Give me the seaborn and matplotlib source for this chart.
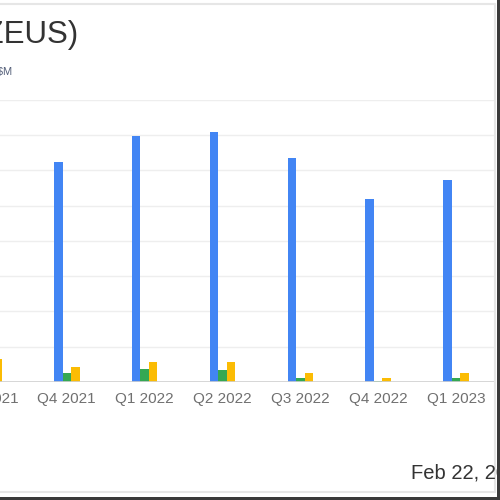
import matplotlib
matplotlib.use("Agg")
import matplotlib.pyplot as plt
from matplotlib.patches import Rectangle
from matplotlib.lines import Line2D
import seaborn as sns
import pandas as pd

# quarterly figures in $M
quarters = ["Q3 2021", "Q4 2021", "Q1 2022", "Q2 2022", "Q3 2022", "Q4 2022", "Q1 2023"]
revenue = [630, 623, 697, 708, 635, 518, 572]
net_income = [45, 25, 37, 34, 11, 3, 10]
ebitda = [65, 42, 57, 57, 25, 11, 25]

series_names = ["Revenue", "Net Income", "EBITDA"]
colors = ["#4285F4", "#34A853", "#FBBC04"]

df = pd.DataFrame({
    "Quarter": quarters * 3,
    "Value": revenue + net_income + ebitda,
    "Series": [series_names[0]] * len(quarters) + [series_names[1]] * len(quarters) + [series_names[2]] * len(quarters),
})

sns.set_theme(style="whitegrid")
plt.rcParams["font.family"] = ["Liberation Sans", "DejaVu Sans"]

fig = plt.figure(figsize=(5, 5), dpi=100)
fig.patch.set_facecolor("white")
# axes pushed off the left edge, like the cropped original
ax = fig.add_axes([-0.1, 0.236, 1.09, 0.5648])

sns.barplot(data=df, x="Quarter", y="Value", hue="Series", palette=colors,
            width=0.33, dodge=True, saturation=1, legend=False, ax=ax, linewidth=0)

ax.set_ylim(0, 800)
ax.set_yticks(range(0, 801, 100))
ax.set_yticklabels([])
ax.set_xlim(-0.5, len(quarters) - 0.5)
ax.grid(axis="y", color="#eeeeee", linewidth=1)
ax.grid(axis="x", visible=False)
ax.axhline(0, color="#d0d0d0", linewidth=1.2, zorder=3)
for s in ax.spines.values():
    s.set_visible(False)
ax.set_xlabel("")
ax.set_ylabel("")
ax.tick_params(axis="x", length=0, pad=7, labelsize=11, labelcolor="#707070")
ax.tick_params(axis="y", length=0)

fig.text(0.156, 0.915, "Olympic Steel Inc (ZEUS)", ha="right", va="baseline",
         fontsize=22.5, color="#333333")
fig.text(0.024, 0.85, "Quarterly figures in $M", ha="right", va="baseline",
         fontsize=8, color="#55607a")
fig.text(0.822, 0.043, "Feb 22, 2024", ha="left", va="baseline",
         fontsize=14.5, color="#333333")

# card border and outer frame
fig.add_artist(Line2D([0, 0.99], [0.992, 0.992], color="#e6e6e6", linewidth=1.5))
fig.add_artist(Line2D([0.99, 0.99], [0.016, 0.992], color="#e6e6e6", linewidth=1.5))
fig.add_artist(Line2D([0, 0.99], [0.016, 0.016], color="#e6e6e6", linewidth=1.5))
fig.add_artist(Rectangle((0.994, 0), 0.006, 1, transform=fig.transFigure,
                         facecolor="#3a3a3a", edgecolor="none", zorder=10))
fig.add_artist(Rectangle((0, 0), 1, 0.006, transform=fig.transFigure,
                         facecolor="#3a3a3a", edgecolor="none", zorder=10))

fig.savefig("out.png", dpi=100)
